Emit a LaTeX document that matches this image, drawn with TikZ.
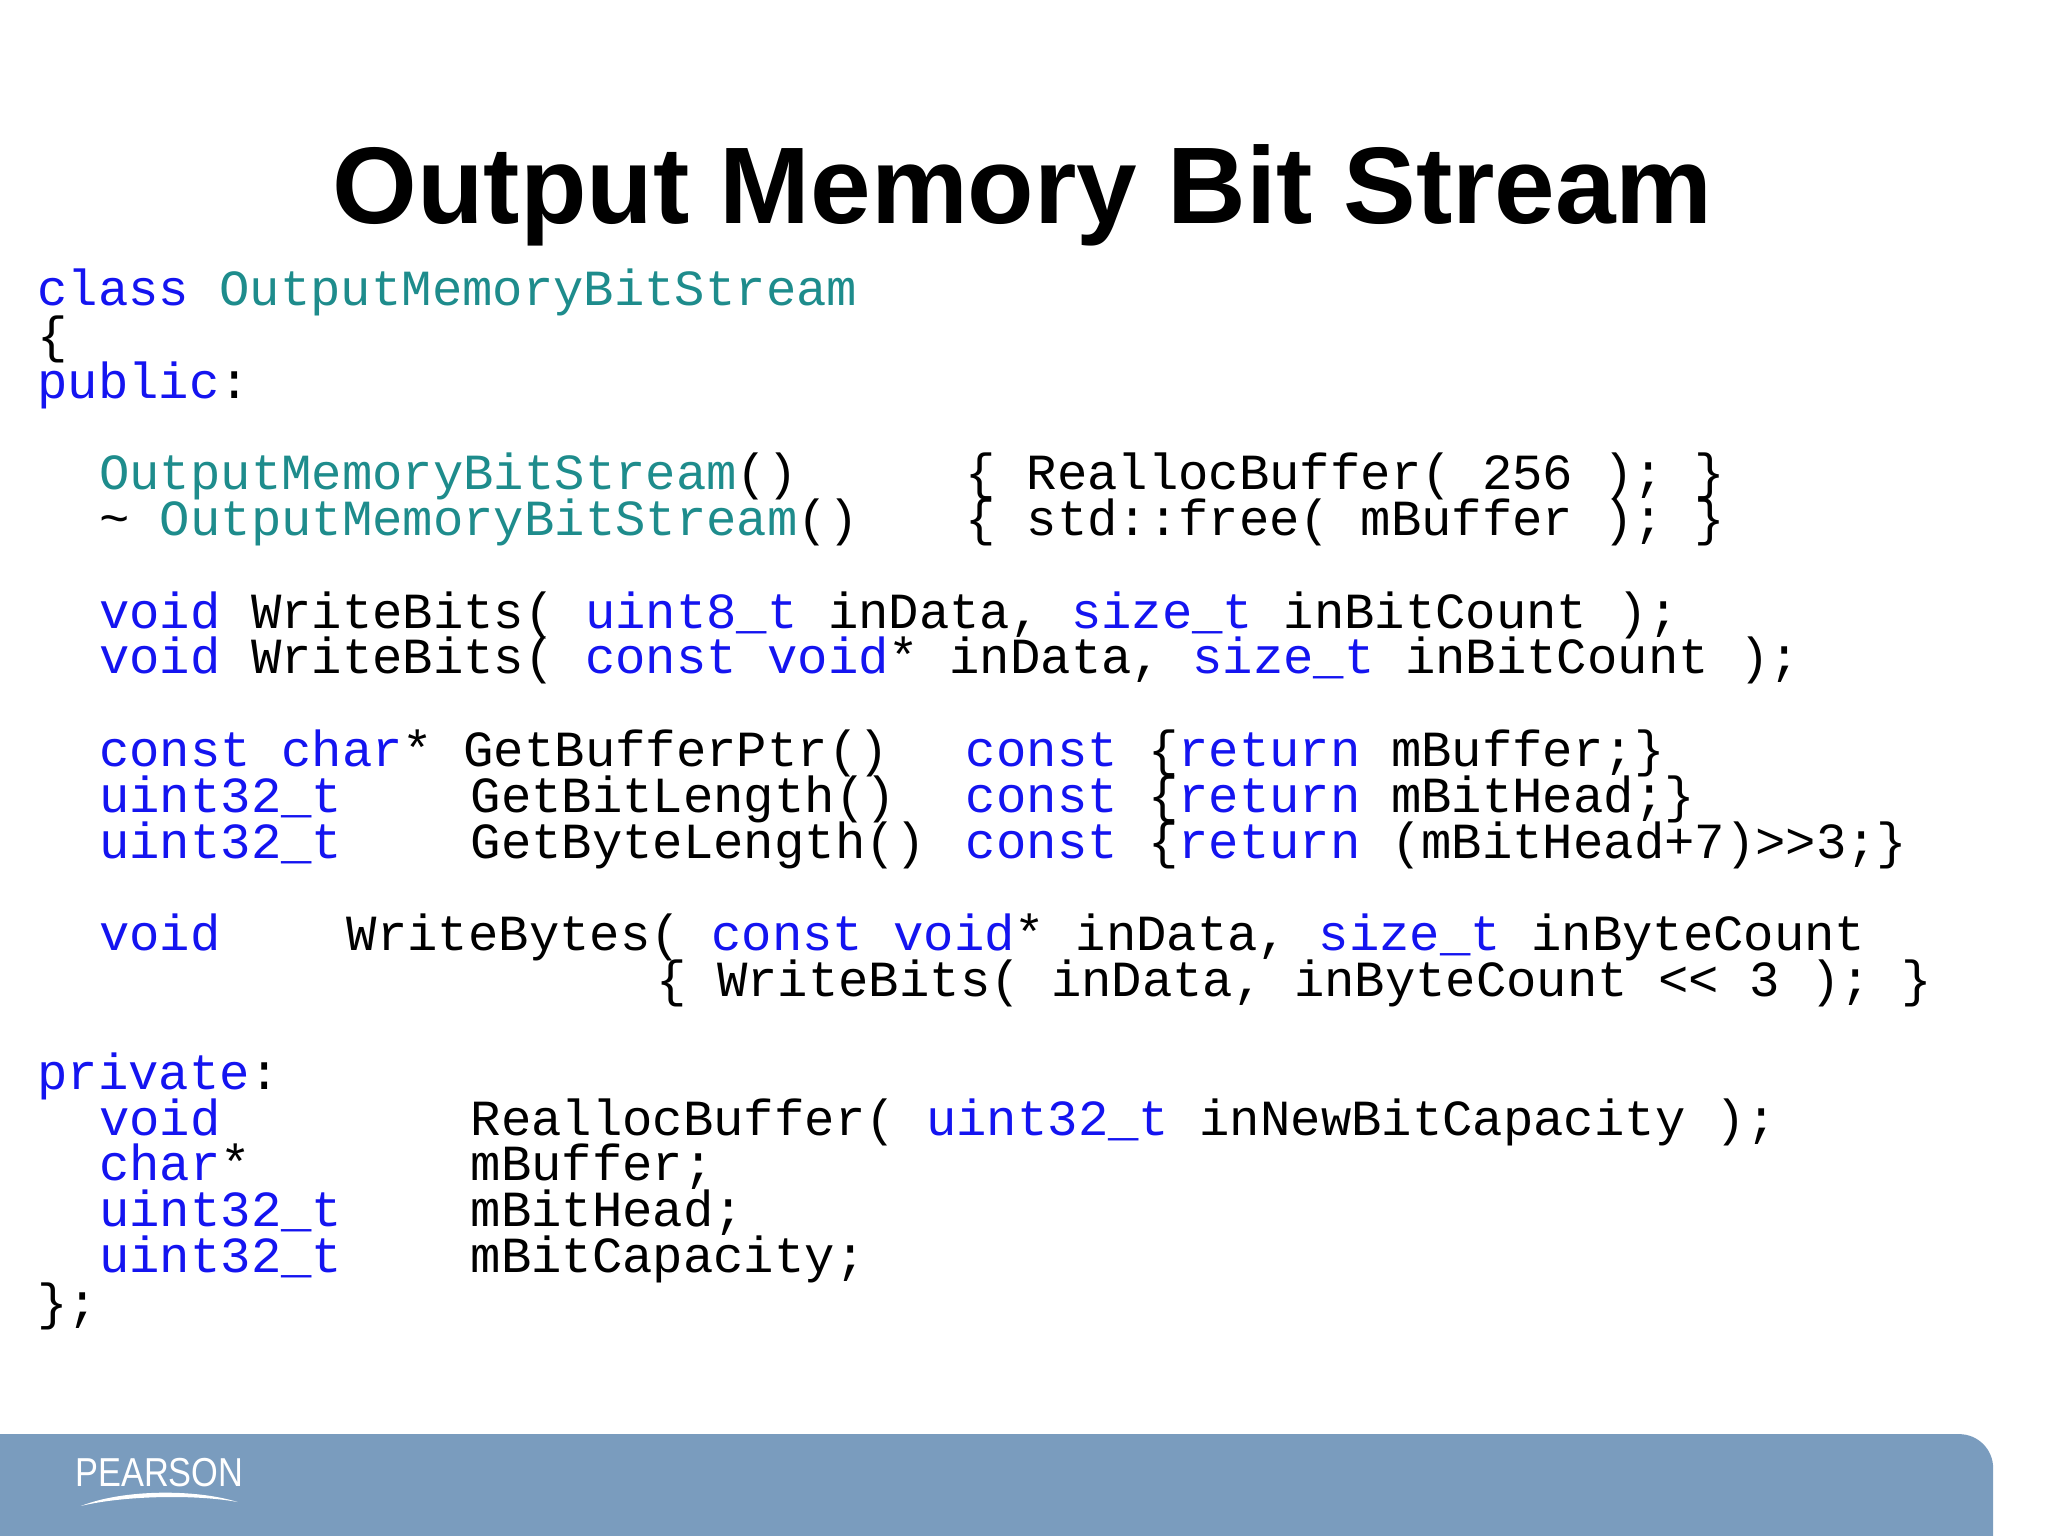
\documentclass[tikz,border=0pt]{standalone}
\usepackage{fontspec}
\setmainfont{Liberation Sans}
\setmonofont{Liberation Mono}
\definecolor{kw}{RGB}{20,20,240}
\definecolor{cls}{RGB}{30,140,140}
\definecolor{foot}{RGB}{122,156,190}
\newcommand{\K}[1]{\textcolor{kw}{#1}}
\newcommand{\C}[1]{\textcolor{cls}{#1}}
\begin{document}
\begin{tikzpicture}[x=0.013061cm,y=-0.013061cm,
  code/.style={anchor=base west,inner sep=0pt,font=\fontsize{14.4}{15}\ttfamily}]
\useasboundingbox (0,0) rectangle (1568,1176);
\node[anchor=base,inner sep=0pt,font=\fontsize{31}{34}\bfseries] (title) at (783,171) {Output Memory Bit Stream};
\def\cx#1{28+#1*23.7}
\node[code] (l1) at (\cx{0},234) {\K{class} \C{OutputMemoryBitStream}};
\node[code] (l2) at (\cx{0},270) {\{};
\node[code] (l3) at (\cx{0},305) {\K{public}:};
\node[code] (l4a) at (\cx{2},375) {\C{OutputMemoryBitStream}()};
\node[code] (l4b) at (\cx{30},375) {\{ ReallocBuffer( 256 ); \}};
\node[code] (l5a) at (\cx{2},410) {\char`\~{} \C{OutputMemoryBitStream}()};
\node[code] (l5b) at (\cx{30},410) {\{ std::free( mBuffer ); \}};
\node[code] (l6) at (\cx{2},481) {\K{void} WriteBits( \K{uint8\_t} inData, \K{size\_t} inBitCount );};
\node[code] (l7) at (\cx{2},516) {\K{void} WriteBits( \K{const void}* inData, \K{size\_t} inBitCount );};
\node[code] (l8a) at (\cx{2},587) {\K{const char}* GetBufferPtr()};
\node[code] (l8b) at (\cx{30},587) {\K{const} \{\K{return} mBuffer;\}};
\node[code] (l9a) at (\cx{2},622) {\K{uint32\_t}};
\node[code] (l9b) at (\cx{14},622) {GetBitLength()};
\node[code] (l9c) at (\cx{30},622) {\K{const} \{\K{return} mBitHead;\}};
\node[code] (l10a) at (\cx{2},657) {\K{uint32\_t}};
\node[code] (l10b) at (\cx{14},657) {GetByteLength()};
\node[code] (l10c) at (\cx{30},657) {\K{const} \{\K{return} (mBitHead+7)>{}>3;\}};
\node[code] (l11a) at (\cx{2},728) {\K{void}};
\node[code] (l11b) at (\cx{10},728) {WriteBytes( \K{const void}* inData, \K{size\_t} inByteCount};
\node[code] (l12) at (\cx{20},763) {\{ WriteBits( inData, inByteCount <{}< 3 ); \}};
\node[code] (l13) at (\cx{0},834) {\K{private}:};
\node[code] (l14a) at (\cx{2},869) {\K{void}};
\node[code] (l14b) at (\cx{14},869) {ReallocBuffer( \K{uint32\_t} inNewBitCapacity );};
\node[code] (l15a) at (\cx{2},904) {\K{char}*};
\node[code] (l15b) at (\cx{14},904) {mBuffer;};
\node[code] (l16a) at (\cx{2},939) {\K{uint32\_t}};
\node[code] (l16b) at (\cx{14},939) {mBitHead;};
\node[code] (l17a) at (\cx{2},974) {\K{uint32\_t}};
\node[code] (l17b) at (\cx{14},974) {mBitCapacity;};
\node[code] (l18) at (\cx{0},1010) {\}{};};
% footer
\fill[foot] (0,1098) -- (1500,1098) arc[start angle=-90,end angle=0,radius=26] -- (1526,1176) -- (0,1176) -- cycle;
\node[anchor=base,inner sep=0pt,text=white,font=\fontsize{11.5}{12}\selectfont,xscale=0.85] (logo) at (122,1138) {PEARSON};
\fill[white] (62,1153) .. controls (95,1140) and (150,1140) .. (182,1150) .. controls (150,1144) and (95,1145) .. (62,1153) -- cycle;
\end{tikzpicture}
\end{document}
